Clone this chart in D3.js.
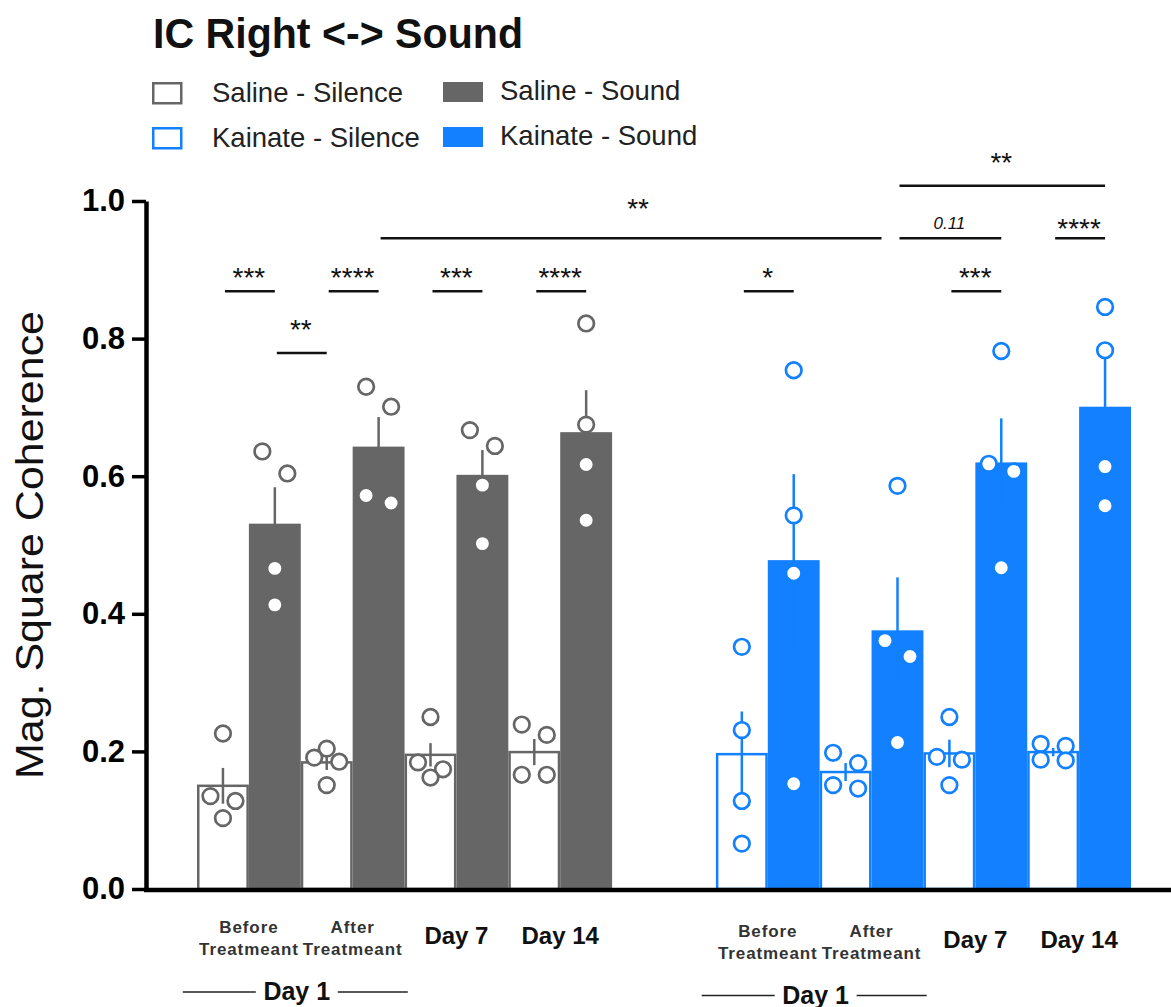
<!DOCTYPE html>
<html>
<head>
<meta charset="utf-8">
<script src="https://cdn.jsdelivr.net/npm/d3@7"></script>
<style>
body { margin: 0; background: #fff; }
svg { display: block; font-family: "Liberation Sans", Arial, sans-serif; }
</style>
</head>
<body>
<svg id="chart" width="1171" height="1007"></svg>
<script>
// values: mean, SEM and the 4 animals behind each bar
var timepoints = ["Before Treatmeant", "After Treatmeant", "Day 7", "Day 14"];
var treatments = ["Saline", "Kainate"];
var conditions = ["Silence", "Sound"];

var salineSilenceMean = [0.150, 0.184, 0.195, 0.199];
var salineSilenceSem = [0.026, 0.011, 0.017, 0.019];
var salineSilencePts = [[0.226, 0.135, 0.128, 0.103], [0.204, 0.151, 0.185, 0.191], [0.250, 0.184, 0.174, 0.162], [0.239, 0.224, 0.166, 0.166]];

var salineSoundMean = [0.531, 0.643, 0.602, 0.664];
var salineSoundSem = [0.053, 0.043, 0.036, 0.061];
var salineSoundPts = [[0.604, 0.636, 0.466, 0.413], [0.730, 0.701, 0.561, 0.572], [0.644, 0.667, 0.587, 0.502], [0.822, 0.675, 0.617, 0.536]];

var kainateSilenceMean = [0.196, 0.170, 0.197, 0.199];
var kainateSilenceSem = [0.062, 0.013, 0.020, 0.006];
var kainateSilencePts = [[0.352, 0.231, 0.128, 0.066], [0.183, 0.198, 0.146, 0.151], [0.250, 0.192, 0.188, 0.151], [0.208, 0.211, 0.188, 0.187]];

var kainateSoundMean = [0.478, 0.376, 0.620, 0.701];
var kainateSoundSem = [0.125, 0.077, 0.064, 0.072];
var kainateSoundPts = [[0.754, 0.543, 0.459, 0.153], [0.586, 0.361, 0.338, 0.213], [0.782, 0.618, 0.607, 0.467], [0.846, 0.783, 0.614, 0.557]];

var yTicks = [0, 0.2, 0.4, 0.6, 0.8, 1.0];

// significance brackets: from bar, to bar, label, row (0 = lowest)
var sigFrom = ["Saline-0-Silence", "Saline-1-Silence", "Saline-2-Silence", "Saline-3-Silence", "Kainate-0-Silence", "Kainate-2-Silence", "Saline-0-Sound", "Saline-1-Sound", "Kainate-1-Sound", "Kainate-3-Silence", "Kainate-1-Sound"];
var sigTo = ["Saline-0-Sound", "Saline-1-Sound", "Saline-2-Sound", "Saline-3-Sound", "Kainate-0-Sound", "Kainate-2-Sound", "Saline-1-Silence", "Kainate-1-Sound", "Kainate-2-Sound", "Kainate-3-Sound", "Kainate-3-Sound"];
var sigLabel = ["***", "****", "***", "****", "*", "***", "**", "**", "0.11", "****", "**"];
var sigRow = [1, 1, 1, 1, 1, 1, 0, 2, 2, 2, 3];
var sigRowValue = [0.779, 0.869, 0.946, 1.022];

var colors = { Saline: "#666666", Kainate: "#1280ff" };

var means = { Saline: { Silence: salineSilenceMean, Sound: salineSoundMean }, Kainate: { Silence: kainateSilenceMean, Sound: kainateSoundMean } };
var sems = { Saline: { Silence: salineSilenceSem, Sound: salineSoundSem }, Kainate: { Silence: kainateSilenceSem, Sound: kainateSoundSem } };
var pts = { Saline: { Silence: salineSilencePts, Sound: salineSoundPts }, Kainate: { Silence: kainateSilencePts, Sound: kainateSoundPts } };

var bars = [];
treatments.forEach(function(tr) {
	timepoints.forEach(function(tp, t) {
		conditions.forEach(function(c) {
			bars.push({ key: tr + "-" + t + "-" + c, group: tr + "-" + t, treatment: tr, cond: c,
				mean: means[tr][c][t], sem: sems[tr][c][t], pts: pts[tr][c][t] });
		});
	});
});

var svg = d3.select("#chart");
var W = 1171;

var groupDomain = [];
treatments.forEach(function(tr, i) {
	if (i > 0) groupDomain.push("gap");
	timepoints.forEach(function(tp, t) { groupDomain.push(tr + "-" + t); });
});

var x0 = d3.scaleBand().domain(groupDomain).range([197, 1131]).padding(0);
var x1 = d3.scaleBand().domain(conditions).range([0, x0.bandwidth()]).padding(0);
var y = d3.scaleLinear().domain([0, 1]).range([889, 201]);

function cx(key) {
	var b = bars.find(function(d) { return d.key === key; });
	return x0(b.group) + x1(b.cond) + x1.bandwidth() / 2;
}

// spread points that sit too close together: closest pairs first
function dodge(vals) {
	var off = vals.map(function() { return 0; });
	var used = vals.map(function() { return false; });
	while (true) {
		var best = null, bd = Infinity;
		for (var i = 0; i < vals.length; i++) {
			for (var j = i + 1; j < vals.length; j++) {
				if (used[i] || used[j]) continue;
				var dd = Math.abs(y(vals[i]) - y(vals[j]));
				if (dd < bd) { bd = dd; best = [i, j]; }
			}
		}
		if (!best || bd >= 23) break;
		var lo = vals[best[0]] <= vals[best[1]] ? best[0] : best[1];
		var hi = lo === best[0] ? best[1] : best[0];
		off[lo] = 12.5; off[hi] = -12.5;
		used[lo] = used[hi] = true;
	}
	return off;
}

// title
svg.append("text").attr("x", 153).attr("y", 48)
	.attr("font-size", 42).attr("font-weight", "bold").attr("fill", "#111")
	.attr("textLength", 370).attr("lengthAdjust", "spacingAndGlyphs")
	.text("IC Right <-> Sound");

// legend
var legendItems = [];
treatments.forEach(function(tr, r) {
	conditions.forEach(function(c, k) { legendItems.push({ tr: tr, c: c, r: r, k: k }); });
});
var lg = svg.append("g").selectAll("g").data(legendItems).join("g")
	.attr("transform", function(d) { return "translate(" + (d.k ? 443 : 152) + "," + (d.r ? 127 : 82) + ")"; });
lg.append("rect")
	.attr("x", function(d) { return d.c === "Silence" ? 1.25 : 0; })
	.attr("y", function(d) { return d.c === "Silence" ? 1.25 : 0; })
	.attr("width", function(d) { return d.c === "Silence" ? 28 : 40; })
	.attr("height", 20)
	.attr("fill", function(d) { return d.c === "Silence" ? "#fff" : colors[d.tr]; })
	.attr("stroke", function(d) { return d.c === "Silence" ? colors[d.tr] : "none"; })
	.attr("stroke-width", 2.5);
lg.append("text")
	.attr("x", function(d) { return d.k ? 57 : 60; })
	.attr("y", function(d) { return d.k ? 18 : 20; })
	.attr("font-size", 27.5).attr("fill", "#222")
	.text(function(d) { return d.tr + " - " + d.c; });

// bars
var barG = svg.append("g");
barG.selectAll("rect").data(bars).join("rect")
	.attr("x", function(d) { return x0(d.group) + x1(d.cond) + (d.cond === "Silence" ? 1.25 : 0); })
	.attr("width", function(d) { return x1.bandwidth() - (d.cond === "Silence" ? 2.5 : 0); })
	.attr("y", function(d) { return y(d.mean); })
	.attr("height", function(d) { return y(0) - y(d.mean); })
	.attr("fill", function(d) { return d.cond === "Silence" ? "#fff" : colors[d.treatment]; })
	.attr("stroke", function(d) { return d.cond === "Silence" ? colors[d.treatment] : "none"; })
	.attr("stroke-width", 2.5);

// error bars (SEM)
barG.selectAll("line.err").data(bars).join("line").attr("class", "err")
	.attr("x1", function(d) { return cx(d.key); })
	.attr("x2", function(d) { return cx(d.key); })
	.attr("y1", function(d) { return y(d.mean - d.sem); })
	.attr("y2", function(d) { return y(d.mean + d.sem); })
	.attr("stroke", function(d) { return colors[d.treatment]; })
	.attr("stroke-width", 2.5);

// individual animals
var pointData = [];
bars.forEach(function(b) {
	var off = dodge(b.pts);
	b.pts.forEach(function(v, i) { pointData.push({ bar: b, v: v, off: off[i] }); });
});
barG.selectAll("circle").data(pointData).join("circle")
	.attr("cx", function(d) { return cx(d.bar.key) + d.off; })
	.attr("cy", function(d) { return y(d.v); })
	.attr("r", 7.8)
	.attr("fill", "#fff")
	.attr("stroke", function(d) { return colors[d.bar.treatment]; })
	.attr("stroke-width", 2.7);

// y axis
var yAxis = svg.append("g").attr("transform", "translate(146,0)")
	.call(d3.axisLeft(y).tickValues(yTicks).tickFormat(d3.format(".1f")).tickSize(14).tickSizeOuter(0).tickPadding(7));
yAxis.select(".domain").attr("stroke", "#000").attr("stroke-width", 4.5);
yAxis.selectAll(".tick line").attr("stroke", "#000").attr("stroke-width", 3.5);
yAxis.selectAll(".tick text").attr("font-size", 31).attr("font-weight", "bold").attr("fill", "#000")
	.attr("font-family", "'Liberation Sans', Arial, sans-serif");

svg.append("text")
	.attr("transform", "translate(43," + (y(0) + y(1)) / 2 + ") rotate(-90)")
	.attr("text-anchor", "middle").attr("font-size", 38).attr("fill", "#111")
	.attr("textLength", 468).attr("lengthAdjust", "spacingAndGlyphs")
	.text("Mag. Square Coherence");

// x axis line
svg.append("line").attr("x1", 144).attr("x2", W).attr("y1", y(0) + 1).attr("y2", y(0) + 1)
	.attr("stroke", "#000").attr("stroke-width", 4.5);

// x labels
var labelData = [];
treatments.forEach(function(tr, k) {
	timepoints.forEach(function(tp, t) { labelData.push({ tr: tr, k: k, t: t, tp: tp }); });
});
var xl = svg.append("g").selectAll("text").data(labelData).join("text")
	.attr("text-anchor", "middle")
	.attr("fill", "#111")
	.attr("font-weight", "bold");
xl.each(function(d) {
	var el = d3.select(this);
	var gx = x0(d.tr + "-" + d.t) + x0.bandwidth() / 2;
	var dy = d.k * 3.5;
	var words = d.tp.split(" ");
	if (words[0] === "Day") {
		el.attr("x", gx).attr("y", 944 + dy).attr("font-size", 24).text(d.tp);
	} else {
		el.attr("font-size", 17).attr("letter-spacing", 0.9).attr("fill", "#333");
		words.forEach(function(w, i) {
			el.append("tspan").attr("x", gx).attr("y", 933 + dy + i * 22).text(w);
		});
	}
});

// "Day 1" brackets under the first two timepoints
treatments.forEach(function(tr, k) {
	var mid = (x0(tr + "-0") + x0(tr + "-1") + x0.bandwidth()) / 2;
	var dy = k * 3.5;
	var g = svg.append("g");
	g.append("line").attr("x1", mid - 118).attr("x2", mid - 45).attr("y1", 992 + dy).attr("y2", 992 + dy)
		.attr("stroke", "#222").attr("stroke-width", 1.5);
	g.append("line").attr("x1", mid + 37).attr("x2", mid + 107).attr("y1", 992 + dy).attr("y2", 992 + dy)
		.attr("stroke", "#222").attr("stroke-width", 1.5);
	g.append("text").attr("x", mid - 4).attr("y", 1000 + dy).attr("text-anchor", "middle")
		.attr("font-size", 25).attr("font-weight", "bold").attr("fill", "#111").text("Day 1");
});

// significance brackets; a line that runs into the start of another on the same row stops short
var sig = sigFrom.map(function(f, i) { return { a: f, b: sigTo[i], label: sigLabel[i], row: sigRow[i] }; });
sig.forEach(function(d) {
	d.x1 = cx(d.a);
	d.x2 = cx(d.b);
});
sig.forEach(function(d) {
	var hit = sig.some(function(o) { return o !== d && o.row === d.row && Math.abs(o.x1 - d.x2) < 2; });
	if (hit) d.x2 -= 16;
	d.x1 += 2;
});
function labelGap(d) {
	if (d.label === "0.11") return 9;
	if (d.x2 - d.x1 > 300) return 20;
	if (d.row === 1) return 4;
	if (d.row === 2) return 0;
	return 14;
}
var sg = svg.append("g").selectAll("g").data(sig).join("g");
sg.append("line")
	.attr("x1", function(d) { return d.x1; })
	.attr("x2", function(d) { return d.x2; })
	.attr("y1", function(d) { return y(sigRowValue[d.row]); })
	.attr("y2", function(d) { return y(sigRowValue[d.row]); })
	.attr("stroke", "#111").attr("stroke-width", 2.5);
sg.append("text")
	.attr("x", function(d) { return (cx(d.a) + cx(d.b)) / 2; })
	.attr("y", function(d) { return y(sigRowValue[d.row]) - labelGap(d); })
	.attr("text-anchor", "middle")
	.attr("fill", "#111")
	.attr("font-size", function(d) { return d.label === "0.11" ? 17 : 28; })
	.attr("font-style", function(d) { return d.label === "0.11" ? "italic" : "normal"; })
	.text(function(d) { return d.label; });
</script>
</body>
</html>
